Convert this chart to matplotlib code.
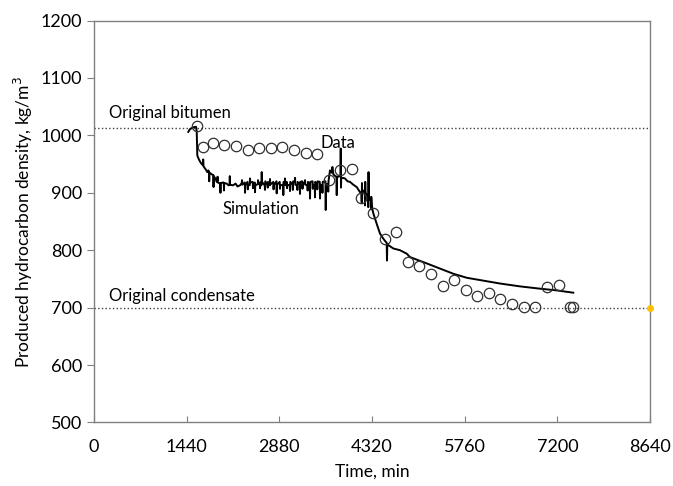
import matplotlib.pyplot as plt

plt.rcParams['font.family'] = ['Lato', 'DejaVu Sans']

# measured data (time, min / density, kg/m3)
data_t = [1596, 1689, 1845, 2025, 2207, 2388, 2564, 2746, 2926, 3108, 3290, 3465,
          3652, 3823, 4005, 4149, 4339, 4519, 4693, 4875, 5055, 5237, 5419, 5599,
          5781, 5957, 6134, 6314, 6496, 6675, 6853, 7044, 7226, 7397, 7448]
data_rho = [1016, 979, 987, 983, 982, 974, 978, 978, 979, 974, 970, 967,
            923, 939, 942, 891, 865, 820, 832, 780, 772, 758, 738, 748,
            730, 720, 726, 715, 706, 701, 701, 736, 739, 701, 701]

# simulation curve (noisy)
sim_t = [1465, 1492, 1543, 1585, 1596, 1605, 1630, 1660, 1692, 1697, 1702, 1740,
         1760, 1776, 1786, 1790, 1795, 1830, 1854, 1857, 1861, 1890, 1907, 1917,
         1920, 1923, 1958, 1962, 1965, 1968, 2010, 2017, 2020, 2023, 2062, 2090,
         2107, 2110, 2113, 2160, 2200, 2230, 2269,
         2296, 2300, 2304, 2343, 2347, 2351, 2386, 2390, 2394, 2420, 2424, 2428,
         2466, 2470, 2474, 2498, 2502, 2506, 2545, 2549, 2553, 2576, 2580, 2584,
         2602, 2606, 2610, 2653, 2657, 2661, 2696, 2700, 2704, 2731, 2735, 2739,
         2786, 2790, 2794, 2835, 2839, 2843, 2886, 2890, 2894, 2938, 2942, 2946,
         2964, 2968, 2972, 2996, 3000, 3004, 3042, 3046, 3050, 3086, 3090, 3094,
         3120, 3124, 3128, 3156, 3160, 3164, 3197, 3201, 3205, 3236, 3240, 3244,
         3275, 3279, 3283, 3316, 3320, 3324, 3353, 3357, 3361, 3396, 3400, 3404,
         3430, 3434, 3438, 3466, 3470, 3474, 3508, 3512, 3516, 3546, 3550, 3554,
         3597, 3601, 3605, 3636, 3640, 3644,
         3667, 3690, 3705, 3720, 3750, 3768, 3772, 3776, 3800, 3830, 3834, 3838,
         3842, 3860, 3900, 3940, 3978,
         4030, 4082, 4134, 4156, 4160, 4164, 4168, 4207, 4211, 4215, 4219, 4240,
         4258, 4262, 4266, 4270, 4290, 4301, 4305, 4309, 4320, 4341, 4393, 4444,
         4496, 4523, 4548, 4553, 4558, 4573, 4651, 4755, 4859, 4911, 5170, 5377,
         5584, 5792, 5998, 6309, 6620, 6931, 7191, 7448]
sim_rho = [1006, 1011, 1014, 1015, 1007, 965, 958, 952, 948, 958, 946, 940,
           936, 939, 937, 920, 935, 932, 931, 910, 929, 924, 919, 921,
           928, 918, 916, 916, 900, 917, 918, 917, 904, 917, 916, 913,
           914, 929, 914, 913, 916, 911, 913,
           917, 922, 914, 918, 900, 913, 919, 906, 914, 913, 925, 918,
           919, 908, 913, 918, 901, 913, 915, 922, 919, 914, 908, 918,
           913, 936, 919, 913, 905, 920, 914, 909, 919, 913, 924, 914,
           919, 906, 913, 920, 899, 914, 919, 907, 913, 914, 896, 919,
           914, 925, 913, 919, 908, 914, 913, 903, 919, 914, 905, 920,
           919, 926, 914, 913, 905, 919, 914, 898, 919, 920, 907, 914,
           919, 922, 914, 913, 904, 919, 914, 890, 919, 920, 907, 914,
           913, 892, 919, 914, 906, 920, 919, 890, 914, 913, 900, 919,
           920, 870, 915, 914, 902, 920,
           939, 935, 945, 932, 929, 928, 896, 928, 928, 930, 977, 909,
           926, 926, 925, 920, 919,
           914, 910, 901, 900, 883, 917, 900, 905, 878, 919, 900, 896,
           893, 875, 936, 895, 888, 886, 871, 893, 875, 864, 846, 829,
           820, 816, 813, 782, 811, 809, 803, 800, 794, 788, 777, 768,
           759, 752, 748, 742, 737, 733, 730, 726]

bitumen_rho = 1013
condensate_rho = 700

fig = plt.figure(figsize=(6.73, 4.86), dpi=100)
ax = fig.add_axes([0.1397, 0.1307, 0.8261, 0.8271])

ax.axhline(bitumen_rho, color='#404040', ls=':', lw=1.0)
ax.axhline(condensate_rho, color='#404040', ls=':', lw=1.0)
ax.plot([8640], [condensate_rho], 'o', color='#FFC000', ms=4, clip_on=False, zorder=5)

ax.plot(sim_t, sim_rho, color='black', lw=1.4)
ax.plot(data_t, data_rho, 'o', mfc='none', mec='#303030', mew=0.9, ms=7.5)

ax.text(233, 1039, 'Original bitumen', fontsize=12, va='center')
ax.text(233, 721, 'Original condensate', fontsize=12, va='center')
ax.text(3512, 986, 'Data', fontsize=12, va='center')
ax.text(1989, 871, 'Simulation', fontsize=12, va='center')

ax.set_xlim(0, 8640)
ax.set_ylim(500, 1200)
ax.set_xticks(range(0, 8641, 1440))
ax.set_yticks(range(500, 1201, 100))
ax.tick_params(axis='x', direction='in', length=4, color='#808080', labelsize=13, pad=12)
ax.tick_params(axis='y', direction='out', length=5, color='#808080', labelsize=13)
for s in ax.spines.values():
    s.set_color('#808080')
    s.set_linewidth(1.0)

ax.set_xlabel('Time, min', fontsize=12.5, labelpad=6)
ax.set_ylabel('Produced hydrocarbon density, kg/m$^3$', fontsize=12.5)

fig.savefig('out.png', dpi=100)
